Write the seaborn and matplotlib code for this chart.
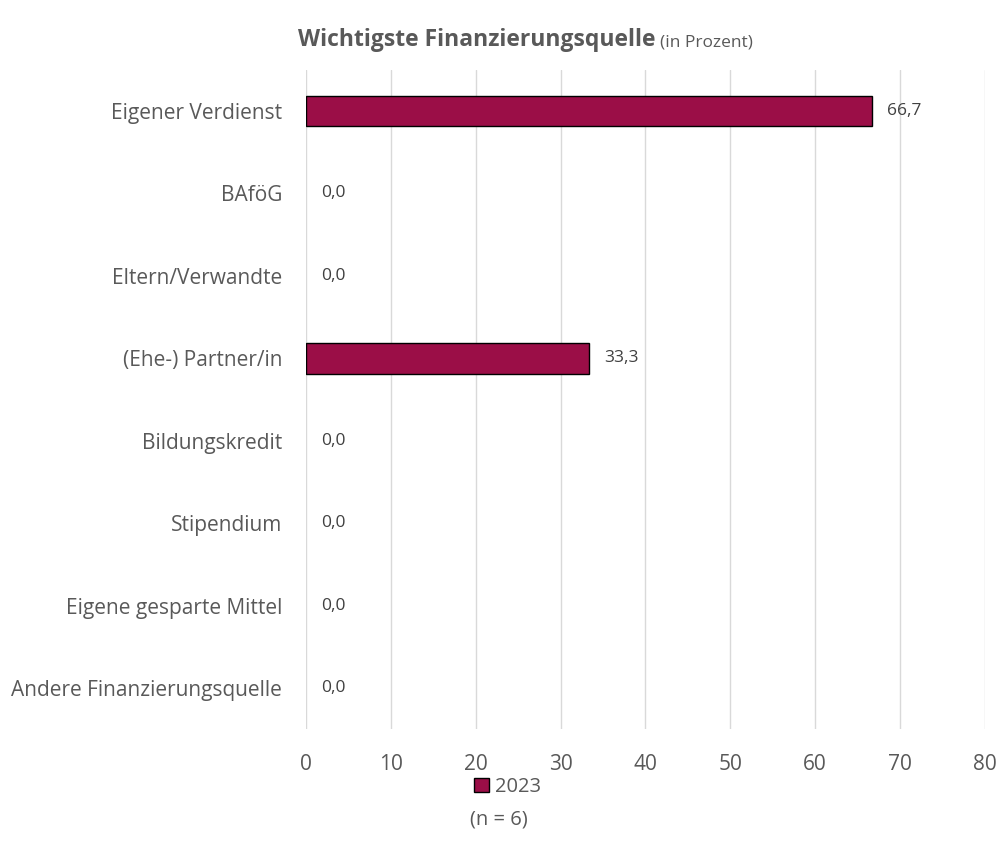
import pandas as pd
import matplotlib
matplotlib.use("Agg")
import matplotlib.pyplot as plt
import matplotlib.patches as mpatches
import seaborn as sns

# ------------------------------------------------------
# Data
# ------------------------------------------------------
categories = [
    "Eigener Verdienst",
    "BAföG",
    "Eltern/Verwandte",
    "(Ehe-) Partner/in",
    "Bildungskredit",
    "Stipendium",
    "Eigene gesparte Mittel",
    "Andere Finanzierungsquelle",
]
values_2023 = [66.7, 0.0, 0.0, 33.3, 0.0, 0.0, 0.0, 0.0]
series_name = "2023"
sample_note = "(n = 6)"
x_ticks = [0, 10, 20, 30, 40, 50, 60, 70, 80]

BAR_COLOR = "#9B0E47"
TEXT_COLOR = "#595959"

df = pd.DataFrame({"Quelle": categories, "Prozent": values_2023})

# ------------------------------------------------------
# Plot
# ------------------------------------------------------
sns.set_style("white")
plt.rcParams["font.family"] = ["Open Sans", "DejaVu Sans"]

fig = plt.figure(figsize=(10.03, 8.61), dpi=100)
ax = fig.add_axes([0.305, 0.153, 0.677, 0.766])

sns.barplot(data=df, x="Prozent", y="Quelle", color=BAR_COLOR,
            edgecolor="black", linewidth=1.0, width=0.37, saturation=1, ax=ax)

# hide outlines of zero-length bars
for patch, v in zip(ax.containers[0], values_2023):
    if v == 0:
        patch.set_linewidth(0)

labels = [f"{v:.1f}".replace(".", ",") for v in values_2023]
ax.bar_label(ax.containers[0], labels=labels, padding=11,
             fontsize=12.5, color="#404040")

ax.set_xlim(0, 80)
ax.set_xticks(x_ticks)
ax.xaxis.grid(True, color="#d9d9d9", linewidth=1)
ax.set_axisbelow(True)
for s in ax.spines.values():
    s.set_visible(False)
ax.tick_params(axis="both", length=0, labelsize=15, colors=TEXT_COLOR)
ax.tick_params(axis="y", pad=17)
ax.tick_params(axis="x", pad=18)
ax.set_xlabel("")
ax.set_ylabel("")

# Title
fig.text(0.654, 0.953, "Wichtigste Finanzierungsquelle", ha="right", va="center",
         fontsize=16.5, fontweight="bold", color=TEXT_COLOR)
fig.text(0.658, 0.951, "(in Prozent)", ha="left", va="center",
         fontsize=12.5, color=TEXT_COLOR)

# Legend
handle = mpatches.Patch(facecolor=BAR_COLOR, edgecolor="black", linewidth=1)
leg = fig.legend([handle], [series_name], loc="center", bbox_to_anchor=(0.506, 0.086),
                 frameon=False, fontsize=14.5, handlelength=0.75, handleheight=0.75,
                 handletextpad=0.3, borderpad=0)
for t in leg.get_texts():
    t.set_color(TEXT_COLOR)
fig.text(0.497, 0.048, sample_note, ha="center", va="center",
         fontsize=14.5, color=TEXT_COLOR)

fig.savefig("out.png", dpi=100)
plt.close(fig)
